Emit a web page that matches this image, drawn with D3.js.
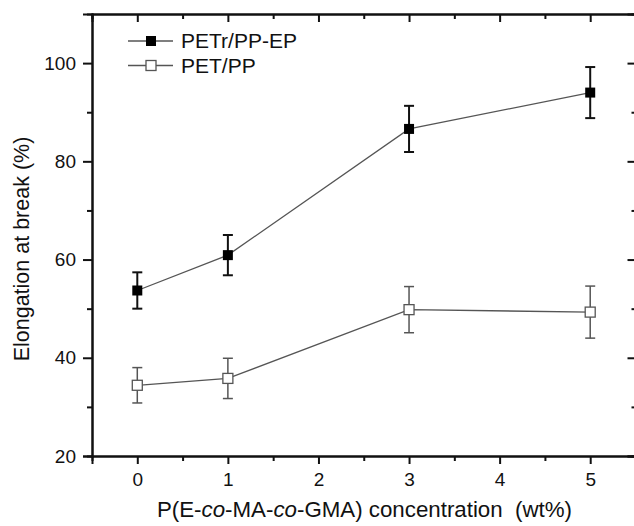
<!DOCTYPE html>
<html><head><meta charset="utf-8">
<script src="https://cdn.jsdelivr.net/npm/d3@7"></script>
<style>body{margin:0;background:#fff}svg{display:block}text{font-family:"Liberation Sans",Arial,sans-serif}</style>
</head><body>
<svg id="c" width="634" height="526"></svg>
<script>
const concentrations = [0, 1, 3, 5];
const petrValues = [53.7, 60.9, 86.6, 94.0];
const petrErrors = [3.7, 4.1, 4.7, 5.2];
const petValues = [34.4, 35.8, 49.8, 49.3];
const petErrors = [3.6, 4.1, 4.7, 5.3];
const xTicks = [0, 1, 2, 3, 4, 5];
const yTicks = [20, 40, 60, 80, 100];
const seriesNames = ["PETr/PP-EP", "PET/PP"];

const svg = d3.select("#c");
const L = 92, R = 635.5, T = 14, B = 456;
const x = d3.scaleLinear().domain([-0.5, 5.5]).range([L, R]);
const y = d3.scaleLinear().domain([20, 110]).range([B, T]);
const FS_TICK = 19, FS_LEG = 21, FS_YT = 21.5, FS_XT = 22.3;

const xMinor = d3.range(-0.5, 5.51, 0.5).filter(v => !Number.isInteger(v) && v > -0.5);
const yMinor = [30, 50, 70, 90];

const gB = svg.append("g").attr("transform", `translate(0,${B})`)
  .call(d3.axisBottom(x).tickValues(xTicks).tickSize(8).tickPadding(9).tickFormat(d3.format("d")));
gB.append("g").call(d3.axisBottom(x).tickValues(xMinor).tickSize(5).tickFormat(""));
const gT = svg.append("g").attr("transform", `translate(0,${T})`)
  .call(d3.axisTop(x).tickValues(xTicks).tickSize(-8).tickFormat(""));
gT.append("g").call(d3.axisTop(x).tickValues(xMinor).tickSize(-5).tickFormat(""));
const gL = svg.append("g").attr("transform", `translate(${L},0)`)
  .call(d3.axisLeft(y).tickValues(yTicks).tickSize(9).tickPadding(7).tickFormat(d3.format("d")));
gL.append("g").call(d3.axisLeft(y).tickValues(yMinor).tickSize(5).tickFormat(""));
const gR = svg.append("g").attr("transform", `translate(${R},0)`)
  .call(d3.axisRight(y).tickValues(yTicks).tickSize(-8).tickFormat(""));
gR.append("g").call(d3.axisRight(y).tickValues(yMinor).tickSize(-4).tickFormat(""));

svg.selectAll(".domain").attr("stroke", "#111").attr("stroke-width", 2);
svg.selectAll(".tick line").attr("stroke", "#111").attr("stroke-width", 2);
svg.selectAll(".tick text").attr("font-size", FS_TICK).attr("fill", "#111")
  .attr("font-family", '"Liberation Sans",Arial,sans-serif');
gB.selectAll(".tick text").attr("dy", "0.71em");

svg.append("text").attr("transform", `translate(29,249) rotate(-90)`)
  .attr("text-anchor", "middle").attr("font-size", FS_YT).attr("fill", "#111")
  .text("Elongation at break (%)");
const xt = svg.append("text").attr("x", 364.5).attr("y", 517).attr("text-anchor", "middle")
  .attr("font-size", FS_XT).attr("fill", "#111").attr("xml:space", "preserve");
xt.append("tspan").text("P(E-");
xt.append("tspan").attr("font-style", "italic").text("co");
xt.append("tspan").text("-MA-");
xt.append("tspan").attr("font-style", "italic").text("co");
xt.append("tspan").text("-GMA) concentration\u00a0\u00a0(wt%)");

const series = [
  {name: seriesNames[0], vals: petrValues, errs: petrErrors, fill: "#000", stroke: "#000", eb: "#111", ebw: 2},
  {name: seriesNames[1], vals: petValues, errs: petErrors, fill: "#fff", stroke: "#555", eb: "#555", ebw: 1.5}
];
const line = d3.line().x(d => x(d[0])).y(d => y(d[1]));
const MS = 10, CAP = 5;

[...series].reverse().forEach(s => {
  const pts = concentrations.map((c, i) => [c, s.vals[i], s.errs[i]]);
  const g = svg.append("g");
  g.append("path").datum(pts).attr("d", line).attr("fill", "none").attr("stroke", "#555").attr("stroke-width", 1.3);
  const eb = g.selectAll(".eb").data(pts).join("g").attr("stroke", s.eb).attr("stroke-width", s.ebw);
  eb.append("line").attr("x1", d => x(d[0])).attr("x2", d => x(d[0]))
    .attr("y1", d => y(d[1] + d[2])).attr("y2", d => y(d[1] - d[2]));
  eb.append("line").attr("x1", d => x(d[0]) - CAP).attr("x2", d => x(d[0]) + CAP)
    .attr("y1", d => y(d[1] + d[2])).attr("y2", d => y(d[1] + d[2]));
  eb.append("line").attr("x1", d => x(d[0]) - CAP).attr("x2", d => x(d[0]) + CAP)
    .attr("y1", d => y(d[1] - d[2])).attr("y2", d => y(d[1] - d[2]));
  g.selectAll("rect").data(pts).join("rect")
    .attr("x", d => x(d[0]) - MS / 2).attr("y", d => y(d[1]) - MS / 2)
    .attr("width", MS).attr("height", MS)
    .attr("fill", s.fill).attr("stroke", s.stroke).attr("stroke-width", s.fill === "#fff" ? 1.3 : 0);
});

series.forEach((s, i) => {
  const ly = 41 + i * 24.5;
  const g = svg.append("g");
  g.append("line").attr("x1", 128).attr("x2", 173).attr("y1", ly).attr("y2", ly)
    .attr("stroke", "#555").attr("stroke-width", 1.3);
  g.append("rect").attr("x", 151 - MS / 2).attr("y", ly - MS / 2).attr("width", MS).attr("height", MS)
    .attr("fill", s.fill).attr("stroke", s.stroke).attr("stroke-width", s.fill === "#fff" ? 1.3 : 0);
  g.append("text").attr("x", 181).attr("y", ly + 7).attr("font-size", FS_LEG).attr("fill", "#111").text(s.name);
});
</script>
</body></html>
